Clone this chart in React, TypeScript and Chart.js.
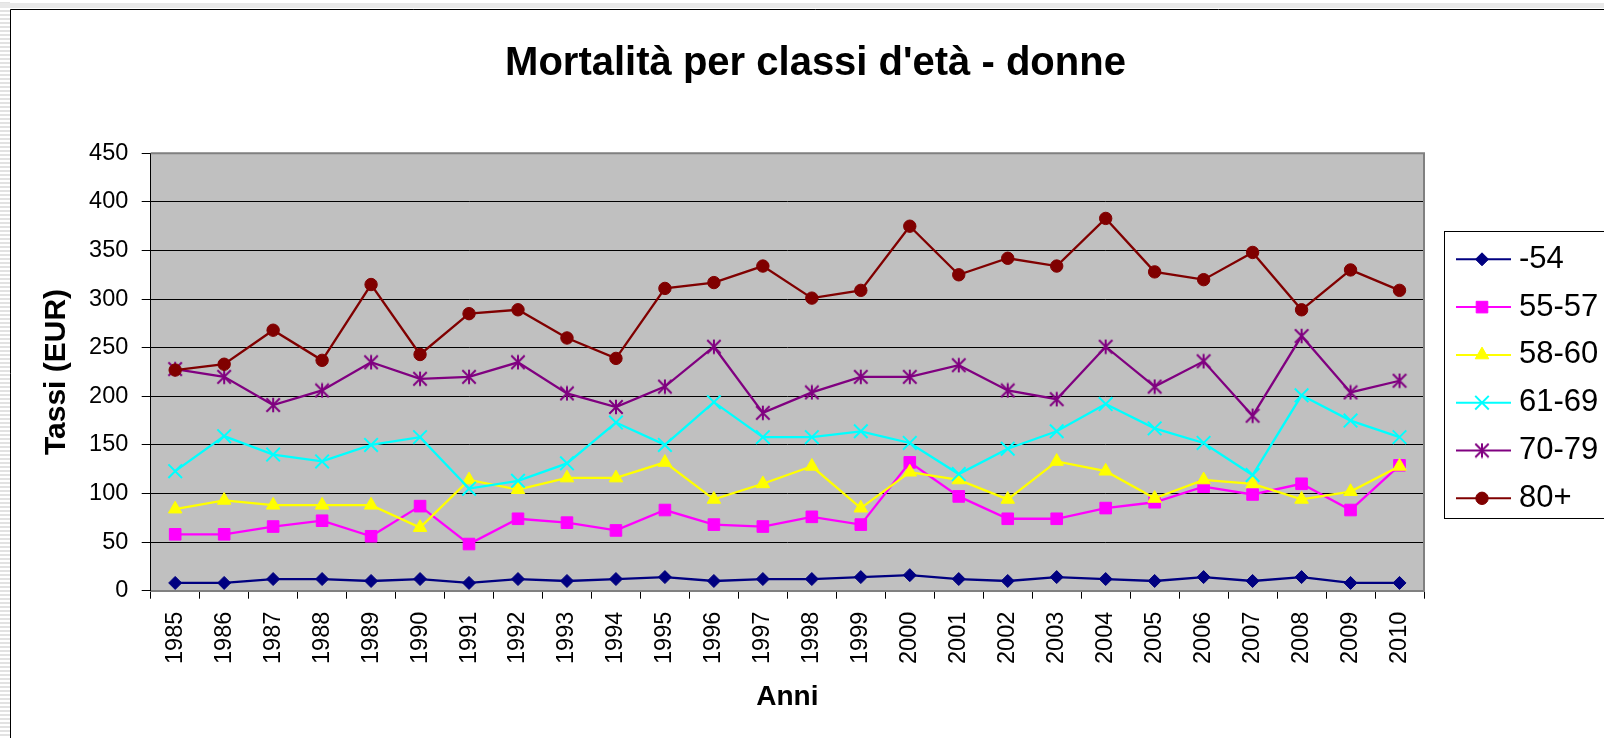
import React, { useEffect, useRef } from 'react';
import { Chart, registerables } from 'chart.js';

Chart.register(...registerables);

// ---------- data ----------
const years = ['1985', '1986', '1987', '1988', '1989', '1990', '1991', '1992', '1993', '1994', '1995', '1996', '1997', '1998', '1999', '2000', '2001', '2002', '2003', '2004', '2005', '2006', '2007', '2008', '2009', '2010'];
const seriesNames = ['-54', '55-57', '58-60', '61-69', '70-79', '80+'];
const s54 = [8, 8, 12, 12, 10, 12, 8, 12, 10, 12, 14, 10, 12, 12, 14, 16, 12, 10, 14, 12, 10, 14, 10, 14, 8, 8];
const s5557 = [58, 58, 66, 72, 56, 87, 48, 74, 70, 62, 83, 68, 66, 76, 68, 132, 97, 74, 74, 85, 91, 107, 99, 110, 83, 129];
const s5860 = [84, 93, 88, 88, 88, 65, 114, 104, 116, 116, 132, 94, 110, 128, 85, 122, 114, 94, 133, 123, 95, 114, 110, 94, 102, 128];
const s6169 = [123, 159, 140, 133, 150, 158, 105, 113, 131, 173, 150, 194, 158, 158, 164, 152, 120, 146, 164, 192, 167, 152, 119, 201, 175, 158];
const s7079 = [228, 220, 191, 206, 235, 218, 220, 235, 203, 189, 210, 251, 183, 204, 220, 220, 232, 206, 197, 251, 210, 236, 180, 262, 204, 216];
const s80 = [227, 233, 268, 237, 315, 243, 285, 289, 260, 239, 311, 317, 334, 301, 309, 375, 325, 342, 334, 383, 328, 320, 348, 289, 330, 309];
const yMin = 0;
const yMax = 450;
const yStep = 50;
const titleText = "Mortalità per classi d'età - donne";
const yTitle = 'Tassi (EUR)';
const xTitle = 'Anni';

// ---------- styles ----------
const FONT = "'Liberation Sans', Arial, Helvetica, sans-serif";
const colors = ['#000080', '#FF00FF', '#FFFF00', '#00FFFF', '#800080', '#800000'];
const markers = ['rectRot', 'rect', 'triangle', 'crossRot', 'asterisk', 'circle'];
const radii = [6.5, 8.2, 7.8, 9.6, 7, 6.2];

const CW = 1611;
const CH = 729;

function makeAsterisk(color: string) {
  const c = document.createElement('canvas');
  c.width = 16;
  c.height = 16;
  const g = c.getContext('2d')!;
  g.strokeStyle = color;
  g.lineWidth = 2;
  const m = 8;
  const a = 6.7;
  g.beginPath();
  g.moveTo(m - a, m - a);
  g.lineTo(m + a, m + a);
  g.moveTo(m + a, m - a);
  g.lineTo(m - a, m + a);
  g.moveTo(m, m - a - 0.5);
  g.lineTo(m, m + a + 0.5);
  g.stroke();
  return c;
}

function drawMarker(ctx: CanvasRenderingContext2D, style: any, x: number, y: number, r: number, color: string) {
  ctx.save();
  ctx.fillStyle = color;
  ctx.strokeStyle = color;
  ctx.lineWidth = 1;
  ctx.beginPath();
  if (style instanceof HTMLCanvasElement) {
    ctx.drawImage(style, x - style.width / 2, y - style.height / 2);
    ctx.restore();
    return;
  }
  switch (style) {
    case 'rectRot':
      ctx.moveTo(x - r, y);
      ctx.lineTo(x, y - r);
      ctx.lineTo(x + r, y);
      ctx.lineTo(x, y + r);
      ctx.closePath();
      ctx.fill();
      ctx.stroke();
      break;
    case 'rect': {
      const s = Math.SQRT1_2 * r;
      ctx.rect(x - s, y - s, 2 * s, 2 * s);
      ctx.fill();
      ctx.stroke();
      break;
    }
    case 'triangle': {
      let rad = 0;
      ctx.moveTo(x + Math.sin(rad) * r, y - Math.cos(rad) * r);
      rad += (2 * Math.PI) / 3;
      ctx.lineTo(x + Math.sin(rad) * r, y - Math.cos(rad) * r);
      rad += (2 * Math.PI) / 3;
      ctx.lineTo(x + Math.sin(rad) * r, y - Math.cos(rad) * r);
      ctx.closePath();
      ctx.fill();
      ctx.stroke();
      break;
    }
    case 'crossRot': {
      const o = Math.SQRT1_2 * r;
      ctx.lineWidth = 2;
      ctx.moveTo(x - o, y - o);
      ctx.lineTo(x + o, y + o);
      ctx.moveTo(x + o, y - o);
      ctx.lineTo(x - o, y + o);
      ctx.stroke();
      break;
    }
    case 'circle':
      ctx.arc(x, y, r, 0, Math.PI * 2);
      ctx.closePath();
      ctx.fill();
      ctx.stroke();
      break;
  }
  ctx.restore();
}

export default function App() {
  const ref = useRef<HTMLCanvasElement | null>(null);

  useEffect(() => {
    const canvas = ref.current;
    if (!canvas) return;
    const asterisk = makeAsterisk(colors[4]);
    const styles: any[] = markers.map((m) => (m === 'asterisk' ? asterisk : m));
    const allData = [s54, s5557, s5860, s6169, s7079, s80];

    const datasets = allData.map((d, i) => ({
      label: seriesNames[i],
      data: d,
      borderColor: colors[i],
      backgroundColor: colors[i],
      borderWidth: 2.3,
      tension: 0,
      fill: false,
      pointStyle: styles[i],
      pointRadius: radii[i],
      pointBorderWidth: markers[i] === 'crossRot' ? 2 : 1,
      pointBorderColor: colors[i],
      pointBackgroundColor: colors[i],
      order: allData.length - i,
    }));

    const framePlugin = {
      id: 'framePlugin',
      beforeDraw(chart: any) {
        const ctx = chart.ctx as CanvasRenderingContext2D;
        const ca = chart.chartArea;
        ctx.save();
        ctx.fillStyle = '#ffffff';
        ctx.fillRect(0, 0, chart.width, chart.height);
        ctx.fillStyle = '#C0C0C0';
        ctx.fillRect(ca.left, ca.top, ca.right - ca.left, ca.bottom - ca.top);
        ctx.strokeStyle = '#000000';
        ctx.lineWidth = 1;
        ctx.beginPath();
        ctx.moveTo(0.5, chart.height);
        ctx.lineTo(0.5, 0.5);
        ctx.lineTo(chart.width, 0.5);
        ctx.stroke();
        ctx.restore();
      },
      beforeDatasetsDraw(chart: any) {
        const ctx = chart.ctx as CanvasRenderingContext2D;
        const ca = chart.chartArea;
        ctx.save();
        ctx.strokeStyle = '#808080';
        ctx.lineWidth = 2;
        ctx.beginPath();
        ctx.moveTo(ca.left, ca.top);
        ctx.lineTo(ca.right, ca.top);
        ctx.lineTo(ca.right, ca.bottom);
        ctx.stroke();
        ctx.restore();
      },
      afterDraw(chart: any) {
        const ctx = chart.ctx as CanvasRenderingContext2D;
        const lx = 1434;
        const ly = 222;
        const lw = 176;
        const lh = 287;
        ctx.save();
        ctx.fillStyle = '#ffffff';
        ctx.fillRect(lx, ly, lw, lh);
        ctx.strokeStyle = '#000000';
        ctx.lineWidth = 1;
        ctx.strokeRect(lx + 0.5, ly + 0.5, lw, lh);
        ctx.font = `31px ${FONT}`;
        ctx.textBaseline = 'middle';
        ctx.textAlign = 'left';
        seriesNames.forEach((name, i) => {
          const y = 250.3 + i * 47.8;
          ctx.strokeStyle = colors[i];
          ctx.lineWidth = 2;
          ctx.beginPath();
          ctx.moveTo(1446, y);
          ctx.lineTo(1501, y);
          ctx.stroke();
          drawMarker(ctx, styles[i], 1472, y, radii[i], colors[i]);
          ctx.fillStyle = '#000000';
          ctx.fillText(name, 1509, y);
        });
        ctx.restore();
      },
    };

    const chart = new Chart(canvas, {
      type: 'line',
      data: { labels: years, datasets },
      plugins: [framePlugin],
      options: {
        animation: false,
        responsive: false,
        maintainAspectRatio: false,
        events: [],
        layout: { padding: 0 },
        plugins: {
          legend: { display: false },
          tooltip: { enabled: false },
          title: {
            display: true,
            text: titleText,
            color: '#000',
            font: { family: FONT, size: 40, weight: 'bold' },
            padding: { top: 31, bottom: 65.3 },
          },
        },
        scales: {
          x: {
            type: 'category',
            offset: true,
            afterFit: (s: any) => {
              s.height = 147.3;
            },
            grid: {
              display: true,
              drawOnChartArea: false,
              drawTicks: true,
              tickLength: 8,
              color: '#000',
              offset: true,
            },
            border: { display: true, color: '#808080', width: 2 },
            ticks: {
              autoSkip: false,
              minRotation: 90,
              maxRotation: 90,
              padding: 13,
              color: '#000',
              font: { family: FONT, size: 23.5 },
            },
            title: {
              display: true,
              text: xTitle,
              color: '#000',
              font: { family: FONT, size: 28, weight: 'bold' },
              padding: { top: 0, bottom: 23.9 },
            },
          },
          y: {
            type: 'linear',
            position: 'left',
            min: yMin,
            max: yMax,
            afterFit: (s: any) => {
              s.width = 140.7;
            },
            grid: {
              color: '#000',
              lineWidth: 1,
              drawTicks: true,
              tickLength: 9,
            },
            border: { display: true, color: '#000', width: 1 },
            ticks: {
              stepSize: yStep,
              padding: 13.4,
              color: '#000',
              font: { family: FONT, size: 23.5 },
            },
            title: {
              display: true,
              text: yTitle,
              color: '#000',
              font: { family: FONT, size: 30, weight: 'bold' },
              padding: { top: 28.7, bottom: 0 },
            },
          },
          yRight: {
            type: 'linear',
            position: 'right',
            display: true,
            min: yMin,
            max: yMax,
            afterFit: (s: any) => {
              s.width = 197;
            },
            grid: { display: false, drawTicks: false },
            border: { display: false },
            ticks: { display: false },
          },
        },
      } as any,
    });

    return () => {
      chart.destroy();
    };
  }, []);

  return (
    <div
      style={{
        position: 'fixed',
        left: 0,
        top: 0,
        width: 1604,
        height: 738,
        overflow: 'hidden',
        background: '#ffffff',
      }}
    >
      <div
        style={{
          position: 'absolute',
          left: 0,
          top: 0,
          width: 10,
          height: 738,
          background: 'repeating-linear-gradient(to bottom, #ffffff 0px, #ffffff 2px, #e2e2e2 2px, #e2e2e2 4px)',
        }}
      />
      <div
        style={{
          position: 'absolute',
          left: 0,
          top: 3,
          width: 1604,
          height: 5,
          background: '#e8e8e8',
        }}
      />
      <canvas
        ref={ref}
        width={CW}
        height={CH}
        style={{ position: 'absolute', left: 10, top: 9, width: CW, height: CH, display: 'block' }}
      />
    </div>
  );
}
